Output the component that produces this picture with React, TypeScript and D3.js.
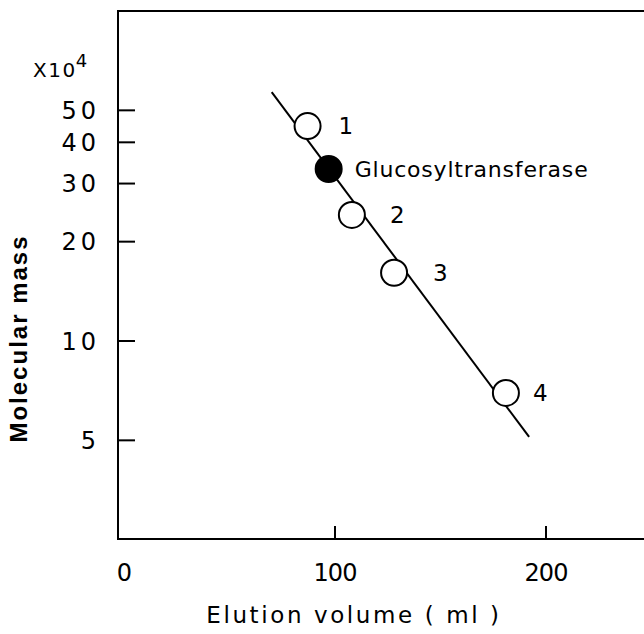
import React from "react";
import * as d3 from "d3";

// calibration proteins + the enzyme
const markerNames = ["1", "Glucosyltransferase", "2", "3", "4"];
const elutionVolume = [87, 97, 108, 128, 181];
const molecularMass = [44.8, 33.2, 24.1, 16.1, 6.96]; // x10^4
const markerFilled = [false, true, false, false, false];
const labelDx = [31, 26, 38, 39, 27];

// fitted calibration line ends
const fitVolume = [70, 192];
const fitMass = [56.8, 5.12];

const xTicks = [0, 100, 200];
const yTicks = [5, 10, 20, 30, 40, 50];

const W = 644;
const H = 634;
const frameLeft = 118;
const frameTop = 11;
const frameBottom = 539;
const numFont = "'DejaVu Sans', sans-serif";

export default function App() {
  const x = d3.scaleLinear().domain([0, 200]).range([124, 546]);
  const y = d3.scaleLog().domain([Math.pow(10, 0.4), 100]).range([frameBottom, frameTop]);

  const fitLine = d3
    .line<number>()
    .x((d) => x(fitVolume[d]))
    .y((d) => y(fitMass[d]));

  return (
    <svg
      width={W}
      height={H}
      style={{ position: "absolute", left: 0, top: 0, background: "#fff" }}
    >
      <rect width={W} height={H} fill="#fff" />
      {/* frame */}
      <g stroke="#000" strokeWidth={2} fill="none">
        <line x1={frameLeft} x2={frameLeft} y1={frameTop} y2={frameBottom} />
        <line x1={frameLeft - 1} x2={W} y1={frameTop} y2={frameTop} />
        <line x1={frameLeft - 1} x2={W} y1={frameBottom} y2={frameBottom} />
      </g>

      {/* y axis */}
      {yTicks.map((t) => (
        <g key={t}>
          <line x1={frameLeft} x2={frameLeft + 17} y1={y(t)} y2={y(t)} stroke="#000" strokeWidth={2} />
          <text
            x={100}
            y={y(t)}
            dy="0.36em"
            textAnchor="end"
            fontFamily={numFont}
            fontSize={24}
            letterSpacing={4}
          >
            {t}
          </text>
        </g>
      ))}
      <text x={33} y={77} fontFamily={numFont} fontSize={20} letterSpacing={1.5}>
        X10
        <tspan dx={-1} dy={-10} fontSize={18}>4</tspan>
      </text>
      <text
        transform={`translate(27, ${(235 + 442) / 2}) rotate(-90)`}
        textAnchor="middle"
        fontFamily="'Liberation Sans', Arial, sans-serif"
        fontWeight="bold"
        fontSize={24}
        letterSpacing={2}
      >
        Molecular mass
      </text>

      {/* x axis */}
      {xTicks.map((t) => (
        <g key={t}>
          {t > 0 && (
            <line x1={x(t)} x2={x(t)} y1={frameBottom} y2={frameBottom - 13} stroke="#000" strokeWidth={2} />
          )}
          <text
            x={x(t)}
            y={572}
            dy="0.36em"
            textAnchor="middle"
            fontFamily={numFont}
            fontSize={24}
            letterSpacing={-1}
          >
            {t}
          </text>
        </g>
      ))}
      <text
        x={354}
        y={623}
        textAnchor="middle"
        fontFamily={numFont}
        fontSize={23}
        letterSpacing={2.6}
      >
        Elution volume ( ml )
      </text>

      {/* calibration line */}
      <path d={fitLine([0, 1]) || ""} stroke="#000" strokeWidth={2} fill="none" />

      {/* points */}
      {markerNames.map((name, i) => (
        <g key={name}>
          <circle
            cx={x(elutionVolume[i])}
            cy={y(molecularMass[i])}
            r={13}
            fill={markerFilled[i] ? "#000" : "#fff"}
            stroke="#000"
            strokeWidth={2}
          />
          <text
            x={x(elutionVolume[i]) + labelDx[i]}
            y={y(molecularMass[i])}
            dy="0.36em"
            fontFamily={numFont}
            fontSize={i === 1 ? 22 : 23}
            letterSpacing={i === 1 ? 0.8 : 0}
          >
            {name}
          </text>
        </g>
      ))}
    </svg>
  );
}
